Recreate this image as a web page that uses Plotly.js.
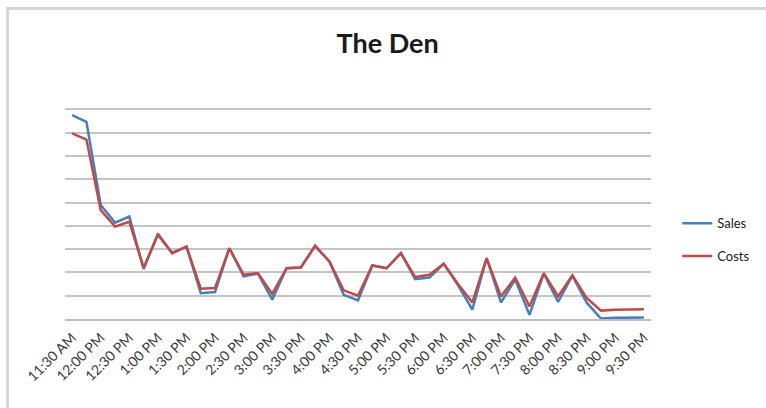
<!DOCTYPE html>
<html>
<head>
<meta charset="utf-8">
<script src="https://cdn.plot.ly/plotly-3.0.1.min.js"></script>
<style>
  html, body { margin: 0; padding: 0; background: #ffffff; overflow: hidden; }
  #frame { position: absolute; left: 6px; top: 7px; width: 760px; height: 401px;
           border-top: 3px solid #d6d6d6; border-left: 3px solid #d6d6d6; }
  #chart { position: absolute; left: 0; top: 0; width: 766px; height: 408px; }
</style>
</head>
<body>
<div id="frame"></div>
<div id="chart"></div>
<script>
// Categories: 15-minute intervals
const times = [
  "11:30 AM", "11:45 AM", "12:00 PM", "12:15 PM", "12:30 PM", "12:45 PM",
  "1:00 PM", "1:15 PM", "1:30 PM", "1:45 PM", "2:00 PM", "2:15 PM",
  "2:30 PM", "2:45 PM", "3:00 PM", "3:15 PM", "3:30 PM", "3:45 PM",
  "4:00 PM", "4:15 PM", "4:30 PM", "4:45 PM", "5:00 PM", "5:15 PM",
  "5:30 PM", "5:45 PM", "6:00 PM", "6:15 PM", "6:30 PM", "6:45 PM",
  "7:00 PM", "7:15 PM", "7:30 PM", "7:45 PM", "8:00 PM", "8:15 PM",
  "8:30 PM", "8:45 PM", "9:00 PM", "9:15 PM", "9:30 PM"
];

// Tick labels shown (every 30 minutes)
const tickLabels = [
  "11:30 AM", "12:00 PM", "12:30 PM", "1:00 PM", "1:30 PM", "2:00 PM",
  "2:30 PM", "3:00 PM", "3:30 PM", "4:00 PM", "4:30 PM", "5:00 PM",
  "5:30 PM", "6:00 PM", "6:30 PM", "7:00 PM", "7:30 PM", "8:00 PM",
  "8:30 PM", "9:00 PM", "9:30 PM"
];

const sales = [
  8.76, 8.47, 4.90, 4.14, 4.40, 2.15, 3.66, 2.83, 3.11, 1.11, 1.16, 3.04,
  1.83, 1.95, 0.83, 2.18, 2.21, 3.14, 2.47, 1.04, 0.80, 2.30, 2.18, 2.83,
  1.71, 1.78, 2.37, 1.45, 0.40, 2.61, 0.71, 1.70, 0.18, 1.95, 0.73, 1.86,
  0.70, 0.02, 0.05, 0.06, 0.06
];

const costs = [
  7.97, 7.71, 4.68, 3.97, 4.18, 2.20, 3.62, 2.83, 3.11, 1.30, 1.33, 3.04,
  1.90, 1.97, 1.08, 2.18, 2.21, 3.14, 2.47, 1.23, 1.00, 2.30, 2.18, 2.83,
  1.80, 1.90, 2.37, 1.50, 0.71, 2.61, 0.97, 1.78, 0.54, 1.97, 0.97, 1.88,
  0.90, 0.36, 0.40, 0.40, 0.42
];

const traces = [
  { type: "scatter", mode: "lines", name: "Sales", x: times, y: sales,
    line: { color: "#4a7ebb", width: 2.5 }, legendgroup: "a" },
  { type: "scatter", mode: "lines", name: "Costs", x: times, y: costs,
    line: { color: "#be4b48", width: 2.5 }, legendgroup: "b" }
];

const layout = {
  width: 766, height: 408,
  margin: { l: 65, r: 114, t: 106, b: 89 },
  paper_bgcolor: "rgba(0,0,0,0)",
  plot_bgcolor: "rgba(0,0,0,0)",
  font: { family: "Lato, 'Open Sans', sans-serif", color: "#404040", size: 12 },
  title: {
    text: "<b>The Den</b>",
    font: { family: "Lato, 'Open Sans', sans-serif", size: 27, color: "#1a1a1a" },
    x: 0.506, xanchor: "center", y: 0.893, yanchor: "middle"
  },
  xaxis: {
    type: "category",
    range: [-0.5, times.length - 0.5],
    tickmode: "array",
    tickvals: tickLabels,
    ticktext: tickLabels,
    tickangle: -45,
    showgrid: false,
    showline: true, linecolor: "#bdbdbd", linewidth: 2,
    ticks: "outside", ticklen: 3, tickcolor: "rgba(0,0,0,0)",
    tickfont: { size: 14, color: "#3a3a3a" },
    zeroline: false,
    fixedrange: true
  },
  yaxis: {
    range: [0, 9.15],
    tickmode: "linear", tick0: 0, dtick: 1,
    showticklabels: false,
    showgrid: true, gridcolor: "#c4c4c4", gridwidth: 2,
    zeroline: false,
    showline: false,
    ticks: "",
    fixedrange: true
  },
  showlegend: true,
  legend: {
    x: 1.043, xanchor: "left", y: 0.372, yanchor: "middle",
    font: { size: 13, color: "#1a1a1a" },
    tracegroupgap: 13,
    bgcolor: "rgba(0,0,0,0)"
  }
};

Plotly.newPlot("chart", traces, layout, { displayModeBar: false, staticPlot: true });
</script>
</body>
</html>
